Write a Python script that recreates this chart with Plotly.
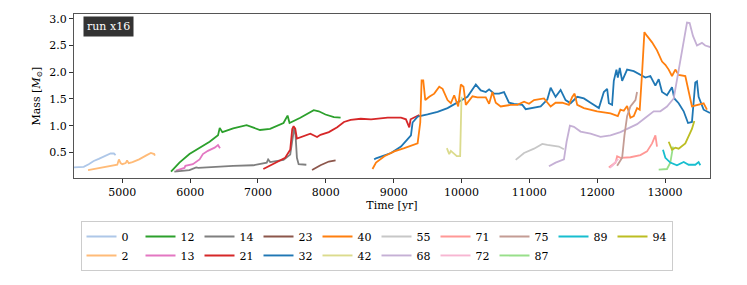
import plotly.graph_objects as go

# ---- data (time [yr], mass [Msun]) ----
ids = ["0", "2", "12", "13", "14", "21", "23", "32", "40", "42", "55", "68", "71", "72", "75", "87", "89", "94"]
colors = {
    "0": "#aec7e8", "2": "#ffbb78", "12": "#2ca02c", "13": "#e377c2", "14": "#7f7f7f",
    "21": "#d62728", "23": "#8c564b", "32": "#1f77b4", "40": "#ff7f0e", "42": "#dbdb8d",
    "55": "#c7c7c7", "68": "#c5b0d5", "71": "#ff9896", "72": "#f7b6d2", "75": "#c49c94",
    "87": "#98df8a", "89": "#17becf", "94": "#bcbd22",
}

t0 = [4288, 4431, 4505, 4579, 4653, 4752, 4827, 4876, 4901]
m0 = [0.22, 0.23, 0.28, 0.34, 0.38, 0.43, 0.48, 0.48, 0.45]

t2 = [4495, 4700, 4926, 4950, 4975, 5000, 5050, 5070, 5095, 5150, 5248, 5347, 5421, 5470, 5480]
m2 = [0.17, 0.22, 0.27, 0.37, 0.30, 0.28, 0.30, 0.35, 0.30, 0.32, 0.37, 0.44, 0.49, 0.47, 0.44]

t12 = [5718, 5842, 5990, 6139, 6287, 6411, 6436, 6475, 6634, 6832, 7030, 7178, 7376, 7436, 7465,
       7624, 7822, 7896, 7995, 8119, 8218]
m12 = [0.14, 0.31, 0.47, 0.58, 0.70, 0.82, 0.96, 0.88, 0.95, 1.01, 0.92, 0.94, 1.05, 1.19, 1.05,
       1.15, 1.29, 1.27, 1.21, 1.16, 1.15]

t13 = [5792, 5880, 5916, 5930, 6040, 6139, 6188, 6262, 6361, 6411, 6440]
m13 = [0.16, 0.19, 0.21, 0.25, 0.28, 0.37, 0.47, 0.53, 0.59, 0.64, 0.58]

t14 = [5767, 5990, 6089, 6120, 6634, 6931, 7129, 7150, 7180, 7376, 7475, 7515, 7535, 7554, 7574,
       7599, 7649, 7713]
m14 = [0.14, 0.17, 0.22, 0.21, 0.25, 0.26, 0.31, 0.37, 0.32, 0.36, 0.46, 0.82, 0.97, 0.82, 0.40,
       0.28, 0.27, 0.27]

t21 = [7079, 7277, 7401, 7475, 7505, 7525, 7550, 7574, 7649, 7772, 7871, 7921, 8045, 8168, 8267,
       8366, 8515, 8667, 8912, 9108, 9181, 9230, 9250, 9328, 9377]
m21 = [0.19, 0.31, 0.40, 0.55, 0.94, 0.99, 0.94, 0.76, 0.79, 0.85, 0.79, 0.83, 0.88, 0.97, 1.07,
       1.11, 1.13, 1.12, 1.15, 1.15, 1.12, 0.97, 1.12, 1.17, 1.20]

t23 = [7797, 7921, 8045, 8144]
m23 = [0.17, 0.26, 0.33, 0.35]

t32 = [8713, 8740, 8961, 9108, 9206, 9255, 9279, 9353, 9500, 9647, 9794, 9941, 10088, 10211, 10284,
       10358, 10407, 10480, 10554, 10627, 10700, 10775, 10897, 10946, 11020, 11167, 11265, 11314,
       11387, 11461, 11534, 11608, 11706, 11804, 11902, 12025, 12098, 12147, 12172, 12220, 12245,
       12284, 12304, 12333, 12368, 12441, 12539, 12637, 12711, 12784, 12858, 12907, 12956, 13029,
       13103, 13137, 13201, 13275, 13339, 13397, 13446, 13471, 13495, 13569, 13663]
m32 = [0.37, 0.39, 0.49, 0.61, 0.75, 0.82, 1.06, 1.17, 1.21, 1.26, 1.33, 1.43, 1.54, 1.77, 1.66,
       1.63, 1.68, 1.60, 1.60, 1.63, 1.43, 1.41, 1.39, 1.31, 1.33, 1.36, 1.49, 1.71,
       1.54, 1.67, 1.48, 1.42, 1.54, 1.51, 1.43, 1.33, 1.63, 1.69, 1.42, 1.39, 1.84,
       2.05, 1.90, 2.08, 1.84, 2.05, 2.02, 1.95, 1.90, 1.93, 1.75, 1.87, 1.63, 1.57,
       1.72, 1.51, 1.42, 1.27, 1.05, 1.07, 1.81, 1.83, 1.54, 1.30, 1.24]

t40 = [8688, 8740, 8863, 9010, 9157, 9353, 9392, 9412, 9436, 9466, 9525, 9598, 9672, 9721, 9794,
       9843, 9892, 9951, 9990, 10029, 10064, 10113, 10162, 10235, 10358, 10407, 10456, 10505, 10578,
       10725, 10823, 10922, 10995, 11069, 11216, 11314, 11387, 11485, 11583, 11632, 11667, 11706,
       11804, 12000, 12196, 12304, 12343, 12392, 12441, 12490, 12539, 12588, 12627, 12662, 12696,
       12735, 12809, 12882, 12956, 13005, 13054, 13103, 13152, 13201, 13299, 13397, 13495, 13569,
       13618]
m40 = [0.19, 0.31, 0.43, 0.52, 0.58, 0.67, 1.06, 1.85, 1.85, 1.48, 1.54, 1.60, 1.73, 1.69, 1.48,
       1.42, 1.57, 1.36, 1.77, 1.73, 1.39, 1.48, 1.55, 1.53, 1.53, 1.41, 1.63, 1.43, 1.36,
       1.39, 1.39, 1.45, 1.41, 1.48, 1.51, 1.36, 1.43, 1.43, 1.39, 1.54, 1.60, 1.39,
       1.33, 1.27, 1.23, 1.18, 1.30, 1.28, 1.37, 1.15, 1.18, 1.33, 1.30, 1.99, 2.75,
       2.68, 2.56, 2.41, 2.20, 2.14, 2.05, 1.93, 2.05, 1.95, 1.93, 1.36, 1.39, 1.42,
       1.30]

t42 = [9784, 9819, 9843, 9882, 9931, 9980, 10000]
m42 = [0.58, 0.47, 0.53, 0.48, 0.43, 0.43, 1.54]

t55 = [10799, 10922, 11069, 11191, 11265, 11338, 11436, 11510]
m55 = [0.36, 0.49, 0.57, 0.66, 0.64, 0.63, 0.61, 0.56]

t68 = [11289, 11387, 11510, 11549, 11598, 11657, 11755, 11902, 12049, 12196, 12343, 12490, 12588,
       12711, 12784, 12833, 12931, 13029, 13128, 13201, 13275, 13324, 13363, 13412, 13471, 13544,
       13593, 13667]
m68 = [0.24, 0.31, 0.37, 0.70, 1.00, 0.98, 0.89, 0.85, 0.79, 0.82, 0.88, 0.97, 1.03,
       1.15, 1.23, 1.27, 1.27, 1.36, 1.51, 2.05, 2.59, 2.93, 2.92, 2.68, 2.50, 2.55,
       2.50, 2.47]

t71 = [12172, 12270, 12294, 12343, 12490, 12637, 12735, 12809, 12858, 12882]
m71 = [0.22, 0.31, 0.43, 0.40, 0.41, 0.45, 0.52, 0.67, 0.82, 0.61]

t72 = [12185, 12230, 12275, 12310]
m72 = [0.21, 0.26, 0.33, 0.38]

t75 = [12294, 12368, 12402, 12441, 12490, 12564, 12588]
m75 = [0.25, 0.40, 0.82, 1.18, 1.36, 1.48, 1.63]

t87 = [12907, 13029, 13078, 13118]
m87 = [0.18, 0.19, 0.31, 0.61]

t89 = [12970, 13005, 13078, 13176, 13275, 13348, 13446, 13495, 13520]
m89 = [0.55, 0.40, 0.31, 0.26, 0.32, 0.27, 0.27, 0.32, 0.26]

t94 = [13054, 13103, 13152, 13201, 13299, 13348, 13397, 13432]
m94 = [0.70, 0.55, 0.59, 0.57, 0.67, 0.82, 0.94, 1.09]

series = {
    "0": (t0, m0), "2": (t2, m2), "12": (t12, m12), "13": (t13, m13), "14": (t14, m14),
    "21": (t21, m21), "23": (t23, m23), "32": (t32, m32), "40": (t40, m40), "42": (t42, m42),
    "55": (t55, m55), "68": (t68, m68), "71": (t71, m71), "72": (t72, m72), "75": (t75, m75),
    "87": (t87, m87), "89": (t89, m89), "94": (t94, m94),
}

# legend laid out row-major like matplotlib's column-major 2-row legend
legend_row1 = ["0", "12", "14", "23", "40", "55", "71", "75", "89", "94"]
legend_row2 = ["2", "13", "21", "32", "42", "68", "72", "87"]
legend_order = legend_row1 + legend_row2

x_ticks = [5000, 6000, 7000, 8000, 9000, 10000, 11000, 12000, 13000]
y_ticks = [0.5, 1.0, 1.5, 2.0, 2.5, 3.0]

FONT = "DejaVu Serif"

fig = go.Figure()
for k in ids:
    t, m = series[k]
    fig.add_trace(go.Scatter(
        x=t, y=m, mode="lines", name=k,
        line=dict(color=colors[k], width=1.8),
        legendrank=legend_order.index(k) + 1,
    ))

fig.update_layout(
    width=747, height=285,
    margin=dict(l=74, r=37, t=14, b=100),
    paper_bgcolor="white", plot_bgcolor="white",
    font=dict(family=FONT, size=11, color="#000"),
    showlegend=True,
    legend=dict(
        orientation="h", xref="container", yref="container",
        x=80.5 / 747, xanchor="left", y=1 - 221 / 285, yanchor="top",
        bordercolor="#cccccc", borderwidth=1, bgcolor="white",
        entrywidth=14, entrywidthmode="pixels",
        font=dict(family=FONT, size=11),
        tracegroupgap=0, itemwidth=30,
    ),
    annotations=[dict(
        text="run x16", xref="paper", yref="paper", x=0.0146, y=0.986,
        xanchor="left", yanchor="top", showarrow=False,
        bgcolor="#333333", font=dict(color="white", size=11, family=FONT),
        borderpad=3,
    )],
)
fig.update_xaxes(
    range=[4288, 13663], tickvals=x_ticks, ticktext=[str(v) for v in x_ticks],
    showgrid=False, zeroline=False, showline=True, mirror=True, linecolor="#555", linewidth=1,
    ticks="outside", ticklen=4, tickcolor="#333",
    title=dict(text="Time [yr]", standoff=2, font=dict(family=FONT, size=11)),
)
fig.update_yaxes(
    range=[0.02, 3.09], tickvals=y_ticks, ticktext=[f"{v:.1f}" for v in y_ticks],
    showgrid=False, zeroline=False, showline=True, mirror=True, linecolor="#555", linewidth=1,
    ticks="outside", ticklen=4, tickcolor="#333",
    title=dict(text="Mass [<i>M</i><sub>⊙</sub>]", standoff=6, font=dict(family=FONT, size=11)),
)

fig.write_html("out.html", config={"displayModeBar": False},
               post_script="document.body.style.margin='0';")
